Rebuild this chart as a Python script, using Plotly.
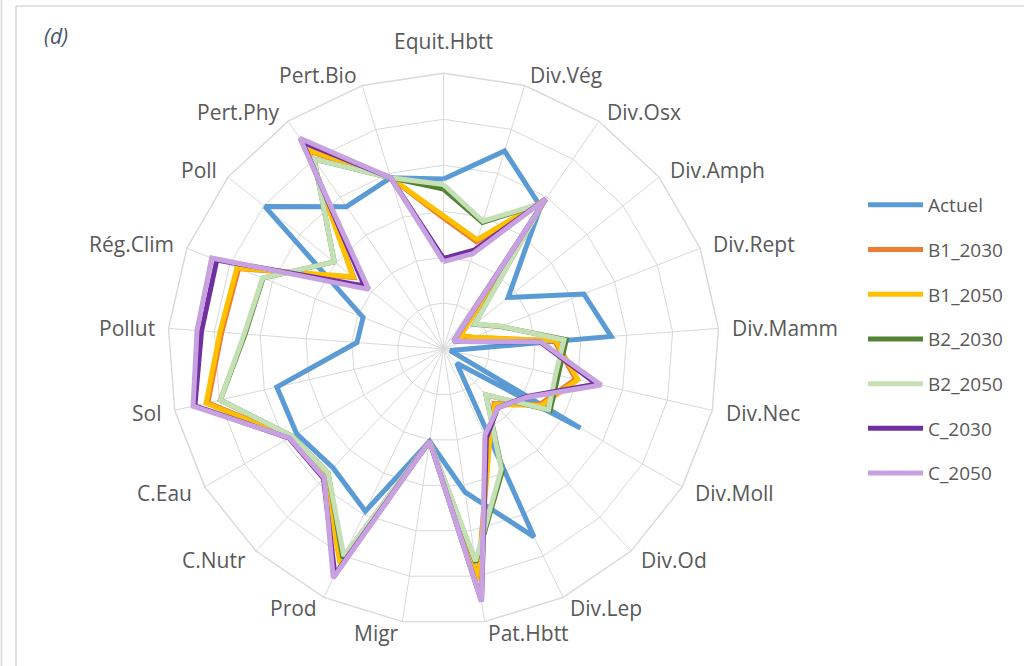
import math
import plotly.graph_objects as go

# Radar axes, clockwise from the top
categories = ["Equit.Hbtt", "Div.Vég", "Div.Osx", "Div.Amph", "Div.Rept", "Div.Mamm",
              "Div.Nec", "Div.Moll", "Div.Od", "Div.Lep", "Pat.Hbtt", "Migr", "Prod",
              "C.Nutr", "C.Eau", "Sol", "Pollut", "Rég.Clim", "Poll", "Pert.Phy", "Pert.Bio"]

actuel  = [3.70, 4.51, 3.75, 1.80, 3.28, 3.66, 0.15, 3.44, 0.42, 4.54, 3.15, 2.03, 3.92,
           3.53, 3.69, 3.72, 1.89, 1.88, 4.97, 3.75, 3.90]
b1_2030 = [2.85, 2.44, 3.93, 0.46, 0.68, 2.42, 2.95, 2.42, 1.62, 2.28, 5.05, 2.03, 5.16,
           3.80, 3.84, 5.26, 4.84, 4.79, 2.50, 5.22, 3.90]
b1_2050 = [2.90, 2.49, 3.95, 0.48, 0.70, 2.45, 3.00, 2.46, 1.65, 2.30, 5.09, 2.03, 5.19,
           3.80, 3.85, 5.30, 4.88, 4.83, 2.52, 5.25, 3.90]
b2_2030 = [3.48, 2.88, 3.85, 0.86, 1.34, 2.68, 2.56, 2.68, 1.36, 2.95, 4.70, 2.03, 5.05,
           3.69, 3.80, 4.98, 4.33, 4.22, 3.04, 5.00, 3.90]
b2_2050 = [3.58, 2.91, 3.85, 0.87, 1.35, 2.63, 2.50, 2.64, 1.36, 2.90, 4.67, 2.03, 5.00,
           3.69, 3.80, 4.98, 4.35, 4.23, 3.04, 5.00, 3.90]
c_2030  = [1.97, 2.25, 3.95, 0.28, 0.45, 2.10, 3.42, 2.08, 1.74, 2.15, 5.55, 2.03, 5.45,
           3.84, 3.88, 5.55, 5.28, 5.30, 2.20, 5.45, 3.90]
c_2050  = [1.90, 2.17, 3.95, 0.28, 0.45, 2.12, 3.52, 2.10, 1.74, 2.08, 5.56, 2.03, 5.53,
           3.82, 3.87, 5.59, 5.38, 5.42, 2.08, 5.55, 3.90]

series = [
    ("Actuel", actuel, "#5B9BD5"),
    ("B1_2030", b1_2030, "#ED7D31"),
    ("B1_2050", b1_2050, "#FFC000"),
    ("B2_2030", b2_2030, "#548235"),
    ("B2_2050", b2_2050, "#C5E0B4"),
    ("C_2030", c_2030, "#7030A0"),
    ("C_2050", c_2050, "#C8A2E0"),
]

W, H = 1024, 666
cx, cy, R = 443.5, 349.0, 275.7
FONT = "Open Sans"
GREY = "#595959"
GRID = "#D9D9D9"

fig = go.Figure()
for i, (name, vals, color) in enumerate(series):
    fig.add_trace(go.Scatterpolar(
        r=vals + vals[:1],
        theta=categories + categories[:1],
        mode="lines",
        name=name,
        legendgroup=f"g{i}",
        line=dict(color=color, width=5),
    ))

# Category labels set just outside the outer polygon, anchored on the side facing away
annotations = []
n = len(categories)
for i, label in enumerate(categories):
    a = 2 * math.pi * i / n
    s, c = math.sin(a), math.cos(a)
    vx, vy = cx + R * s, cy - R * c
    if i == 0:
        px, py, xa, ya = vx, vy - 17, "center", "bottom"
    else:
        px, py = vx + 13 * s, vy - 11.5 * c
        xa, ya = ("left" if s > 0 else "right"), "middle"
    annotations.append(dict(
        text=label, xref="paper", yref="paper", x=px / W, y=1 - py / H,
        xanchor=xa, yanchor=ya, showarrow=False, borderpad=0,
        font=dict(size=21, color=GREY, family=FONT)))

annotations.append(dict(
    text="<i>(d)</i>", xref="paper", yref="paper", x=56 / W, y=1 - 36 / H,
    xanchor="center", yanchor="middle", showarrow=False,
    font=dict(size=21, color="#44546A", family=FONT)))

fig.update_layout(
    width=W, height=H,
    margin=dict(l=0, r=0, t=0, b=0),
    paper_bgcolor="white",
    font=dict(family=FONT, color=GREY),
    polar=dict(
        domain=dict(x=[(cx - R) / W, (cx + R) / W],
                    y=[(H - cy - R) / H, (H - cy + R) / H]),
        gridshape="linear",
        bgcolor="white",
        radialaxis=dict(range=[0, 6], dtick=1, showticklabels=False, ticks="",
                        showline=False, gridcolor=GRID, gridwidth=1.4),
        angularaxis=dict(rotation=90, direction="clockwise",
                         gridcolor=GRID, gridwidth=1.4,
                         showline=True, linecolor=GRID, linewidth=1.4,
                         ticks="", showticklabels=False),
    ),
    showlegend=True,
    legend=dict(x=863 / W, y=1 - 339 / H, xanchor="left", yanchor="middle",
                itemwidth=55,
                font=dict(size=19, color=GREY, family=FONT),
                tracegroupgap=17, bgcolor="rgba(0,0,0,0)"),
    shapes=[
        dict(type="line", xref="paper", yref="paper", x0=16 / W, x1=1, y0=1 - 6 / H, y1=1 - 6 / H,
             line=dict(color=GRID, width=1.5)),
        dict(type="line", xref="paper", yref="paper", x0=16 / W, x1=16 / W, y0=0, y1=1 - 6 / H,
             line=dict(color=GRID, width=1.5)),
        dict(type="line", xref="paper", yref="paper", x0=1.5 / W, x1=1.5 / W, y0=0, y1=1,
             line=dict(color=GRID, width=1.5)),
    ],
    annotations=annotations,
)

fig.write_html("out.html")
